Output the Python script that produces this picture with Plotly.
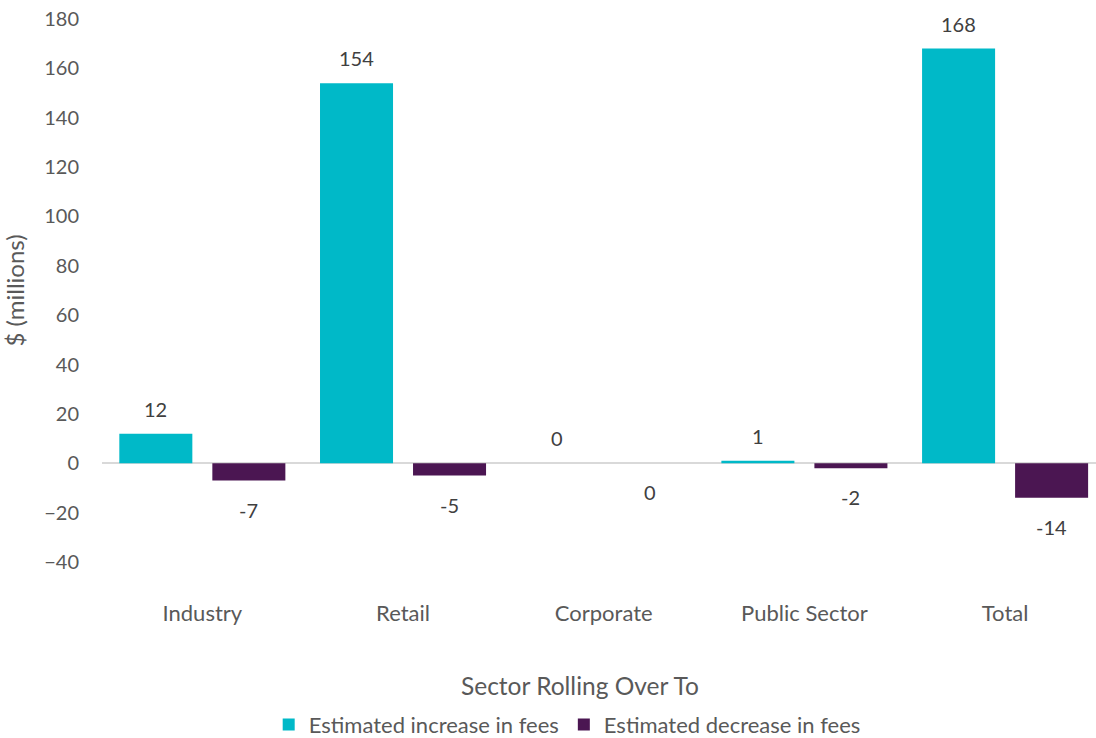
import plotly.graph_objects as go

# Sector categories and fee changes ($ millions)
sectors = ["Industry", "Retail", "Corporate", "Public Sector", "Total"]
fee_increase = [12, 154, 0, 1, 168]
fee_decrease = [-7, -5, 0, -2, -14]

series_names = ["Estimated increase in fees", "Estimated decrease in fees"]
x_title = "Sector Rolling Over To"
y_title = "$ (millions)"
teal = "#00B9C8"
purple = "#4B1652"
label_color = "#404040"
tick_color = "#595959"
font_family = "Lato, 'Open Sans', sans-serif"

fig = go.Figure()
fig.add_trace(go.Bar(
    x=sectors, y=fee_increase, name=series_names[0],
    marker=dict(color=teal, line=dict(width=0)),
))
fig.add_trace(go.Bar(
    x=sectors, y=fee_decrease, name=series_names[1],
    marker=dict(color=purple, line=dict(width=0)),
))

# Value labels sit just beyond the end of each bar
bar_offset_px = 46.5
for i, s in enumerate(sectors):
    fig.add_annotation(x=s, y=fee_increase[i], text=str(fee_increase[i]),
                       xshift=-bar_offset_px, yshift=25, showarrow=False,
                       font=dict(size=20, color=label_color, family=font_family))
    fig.add_annotation(x=s, y=fee_decrease[i], text=str(fee_decrease[i]),
                       xshift=bar_offset_px, yshift=-29, showarrow=False,
                       font=dict(size=20, color=label_color, family=font_family))

# Category axis title, placed below the tick labels
fig.add_annotation(text=x_title, xref="paper", yref="paper", x=0.481, y=-0.228,
                   xanchor="center", yanchor="middle", showarrow=False,
                   font=dict(size=24.5, color=tick_color, family=font_family))

fig.update_layout(
    width=1096, height=738,
    margin=dict(l=102, r=0, t=19, b=176, autoexpand=False),
    plot_bgcolor="white", paper_bgcolor="white",
    barmode="group", bargap=0.073, bargroupgap=0.215,
    font=dict(family=font_family, color=tick_color, size=20),
    showlegend=True,
    legend=dict(orientation="h", x=0.468, xanchor="center",
                yref="container", y=0.018, yanchor="middle",
                font=dict(size=22, color=tick_color), itemwidth=30,
                traceorder="normal"),
    xaxis=dict(
        range=[-0.5, 4.453], showgrid=False, showline=False, zeroline=False,
        automargin=False,
        ticks="", ticklabelstandoff=36, tickfont=dict(size=22, color=tick_color),
    ),
    yaxis=dict(
        range=[-40, 180], dtick=20, tick0=0, showgrid=False, showline=False,
        automargin=False,
        zeroline=True, zerolinecolor="#D9D9D9", zerolinewidth=2,
        ticks="", ticklabelstandoff=22, tickfont=dict(size=20, color=tick_color),
        title=dict(text=y_title, standoff=16,
                   font=dict(size=24, color=tick_color)),
    ),
)

fig.write_html("out.html")
